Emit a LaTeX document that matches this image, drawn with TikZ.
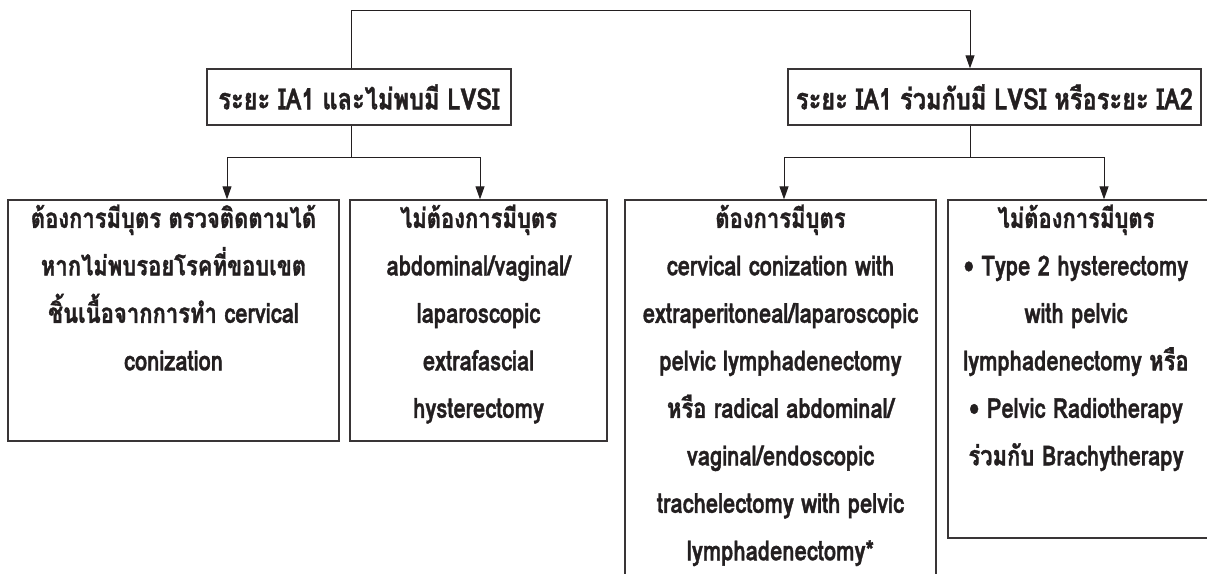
\documentclass[tikz,border=0pt]{standalone}
\usepackage{fontspec}
\usetikzlibrary{arrows.meta}
\newfontfamily\thaifont[Script=Thai,FakeStretch=0.8,BoldFont={Loma Bold},BoldFeatures={FakeBold=1.2}]{Loma}
\definecolor{ink}{HTML}{231F20}
\tikzset{
  box/.style={draw=ink!90, line width=1.3pt, rectangle, inner sep=0pt},
  txt/.style={text=ink, inner sep=0pt, align=center, font=\thaifont\bfseries\fontsize{27.5}{47.5}\selectfont},
  headtxt/.style={txt, font=\thaifont\bfseries\fontsize{29.5}{47.5}\selectfont},
  conn/.style={draw=ink, line width=1pt},
  arr/.style={conn, -{Triangle[length=13pt,width=9pt]}}
}
\begin{document}
\begin{tikzpicture}[x=1pt,y=-1pt]
\useasboundingbox (0,0) rectangle (1207,573);
\clip (0,0) rectangle (1207,573);
% level 1 boxes
\node[box, minimum width=304pt, minimum height=56pt] (b1) at (359,97) {};
\node[box, minimum width=413pt, minimum height=56pt] (b2) at (994.5,97) {};
\node[headtxt] (t1) at (b1.center) {ระยะ IA1 และไม่พบมี LVSI};
\node[headtxt] (t2) at (b2.center) {ระยะ IA1 ร่วมกับมี LVSI หรือระยะ IA2};
% level 2 boxes
\node[box, minimum width=331pt, minimum height=241pt] (bA) at (173.5,320.5) {};
\node[box, minimum width=257pt, minimum height=241pt] (bB) at (478.5,320.5) {};
\node[box, minimum width=311pt, minimum height=400pt] (bC) at (780.5,400) {};
\node[box, minimum width=264pt, minimum height=338pt] (bD) at (1080,369) {};
\node[txt, anchor=north] (tA) at ([yshift=-5pt]bA.north) {ต้องการมีบุตร ตรวจติดตามได้\\หากไม่พบรอยโรคที่ขอบเขต\\ชิ้นเนื้อจากการทำ cervical\\conization};
\node[txt, anchor=north] (tB) at ([yshift=-5pt]bB.north) {ไม่ต้องการมีบุตร\\abdominal/vaginal/\\laparoscopic\\extrafascial\\hysterectomy};
\node[txt, anchor=north] (tC) at ([yshift=-5pt]bC.north) {ต้องการมีบุตร\\cervical conization with\\extraperitoneal/laparoscopic\\pelvic lymphadenectomy\\หรือ radical abdominal/\\vaginal/endoscopic\\trachelectomy with pelvic\\lymphadenectomy*};
\node[txt, anchor=north] (tD) at ([yshift=-5pt,xshift=-4pt]bD.north) {ไม่ต้องการมีบุตร\\• Type 2 hysterectomy\\with pelvic\\lymphadenectomy หรือ\\• Pelvic Radiotherapy\\ร่วมกับ Brachytherapy};
% junction coordinates
\coordinate (top1) at (351,10);
\coordinate (top2) at (970,10);
\coordinate (j1) at (351,157);
\coordinate (j2) at (970,157);
\coordinate (xA) at (227,0);
\coordinate (xB) at (480,0);
\coordinate (xC) at (784,0);
\coordinate (xD) at (1104,0);
% connectors
\draw[arr] (b1.north -| top1) -- (top1) -- (top2) -- (b2.north -| top2);
\draw[conn] (b1.south -| j1) -- (j1);
\draw[arr] (j1) -| (bA.north -| xA);
\draw[arr] (j1) -| (bB.north -| xB);
\draw[conn] (b2.south -| j2) -- (j2);
\draw[arr] (j2) -| (bC.north -| xC);
\draw[arr] (j2) -| (bD.north -| xD);
\end{tikzpicture}
\end{document}
